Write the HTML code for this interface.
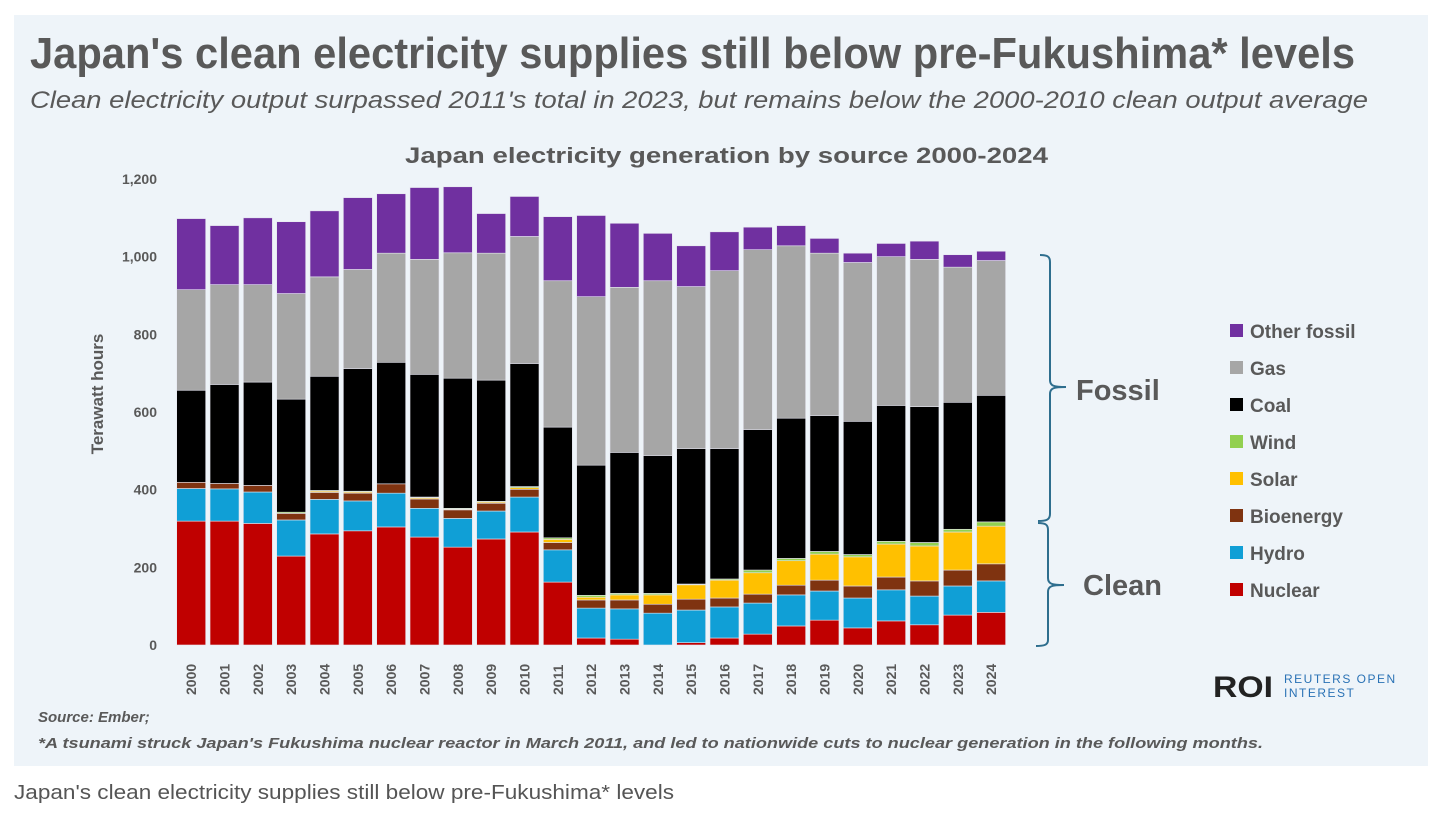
<!DOCTYPE html>
<html><head><meta charset="utf-8">
<style>
html,body{margin:0;padding:0;background:#fff;}
svg{display:block;font-family:"Liberation Sans",sans-serif;}
</style></head>
<body>
<svg id="chart" width="1448" height="824" viewBox="0 0 1448 824" xmlns="http://www.w3.org/2000/svg">
<rect x="14" y="15" width="1414" height="751" fill="#eef4f9"/>
<text x="30" y="68" font-size="44" font-weight="bold" fill="#595959" textLength="1325" lengthAdjust="spacingAndGlyphs">Japan's clean electricity supplies still below pre-Fukushima* levels</text>
<text x="30" y="108" font-size="24" font-style="italic" fill="#595959" textLength="1338" lengthAdjust="spacingAndGlyphs">Clean electricity output surpassed 2011's total in 2023, but remains below the 2000-2010 clean output average</text>
<text x="405" y="163" font-size="22" font-weight="bold" fill="#595959" textLength="643" lengthAdjust="spacingAndGlyphs">Japan electricity generation by source 2000-2024</text>
<text transform="translate(103,394) rotate(-90)" text-anchor="middle" font-size="17" font-weight="bold" fill="#595959">Terawatt hours</text>
<g id="yticks"></g>
<g id="bars"></g>
<g id="xlabels"></g>
<g id="braces" fill="none" stroke="#2e6e8e" stroke-width="2">
<path d="M1040,255 C1048,255 1050,257 1050,262 L1050,380 C1050,386 1054,387 1066,387 C1054,387 1050,388 1050,394 L1050,514 C1050,520 1046,521 1038,521"/>
<path d="M1038,523 C1046,523 1048,525 1048,530 L1048,578 C1048,584 1052,585 1064,585 C1052,585 1048,586 1048,592 L1048,640 C1048,645 1044,646 1036,646"/>
</g>
<text x="1076" y="400" font-size="29" font-weight="bold" fill="#595959">Fossil</text>
<text x="1083" y="595" font-size="29" font-weight="bold" fill="#595959">Clean</text>
<g id="legend"></g>
<text x="38" y="722" font-size="15" font-weight="bold" font-style="italic" fill="#595959">Source: Ember;</text>
<text x="38" y="748" font-size="15" font-weight="bold" font-style="italic" fill="#595959" textLength="1225" lengthAdjust="spacingAndGlyphs">*A tsunami struck Japan's Fukushima nuclear reactor in March 2011, and led to nationwide cuts to nuclear generation in the following months.</text>
<text x="1213" y="697" font-size="30" font-weight="bold" fill="#222" textLength="60" lengthAdjust="spacingAndGlyphs">ROI</text>
<text x="1284" y="683" font-size="12" fill="#2a72b5" letter-spacing="1.5">REUTERS OPEN</text>
<text x="1284" y="697" font-size="12" fill="#2a72b5" letter-spacing="1.5">INTEREST</text>
<text x="14" y="799" font-size="20" fill="#555" textLength="660" lengthAdjust="spacingAndGlyphs">Japan's clean electricity supplies still below pre-Fukushima* levels</text>
</svg>
<script>
const years = [2000,2001,2002,2003,2004,2005,2006,2007,2008,2009,2010,2011,2012,2013,2014,2015,2016,2017,2018,2019,2020,2021,2022,2023,2024];
const nuclear = [319,319,313,229,286,294,304,278,252,273,291,162,18,15,0,6,18,28,49,64,44,62,52,77,84];
const hydro = [84,83,81,93,89,77,87,74,74,72,90,83,77,78,82,84,80,80,80,75,77,80,74,75,81];
const bioenergy = [16,14,17,17,18,20,24,24,22,20,20,19,21,23,23,28,23,23,25,28,31,33,39,41,44];
const solar = [0,0,0,0,3,3,0,3,2,3,4,8,7,13,24,37,46,55,63,67,75,85,90,98,97];
const wind = [0,0,0,3,2,2,0,2,2,2,3,4,5,4,4,2,3,7,6,7,6,7,9,7,11];
const coal = [237,255,266,291,294,316,313,316,335,312,317,285,335,363,355,349,336,362,361,350,343,350,350,327,326];
const gas = [259,257,251,272,256,255,281,296,323,327,327,377,434,425,450,417,458,463,444,418,409,383,379,348,347];
const otherFossil = [183,152,172,185,170,185,153,185,170,102,103,165,209,165,122,105,100,58,52,38,24,34,47,32,24];
const yTicks = [0,200,400,600,800,1000,1200];
const yTickLabels = ["0","200","400","600","800","1,000","1,200"];
const seriesNames = ["Nuclear","Hydro","Bioenergy","Solar","Wind","Coal","Gas","Other fossil"];
const seriesColors = ["#c00000","#109fd6","#7f3310","#ffc000","#92d050","#000000","#a6a6a6","#7030a0"];
const seriesData = [nuclear,hydro,bioenergy,solar,wind,coal,gas,otherFossil];

const NS = "http://www.w3.org/2000/svg";
const y0 = 645, yMax = 1200, yTop = 179;
function yScale(v){ return y0 - (v / yMax) * (y0 - yTop); }
const step = 33.33, x0 = 176.7, bw = 29;
function xScale(i){ return x0 + i * step; }

const gy = document.getElementById('yticks');
yTicks.forEach((t,i)=>{
  const tx = document.createElementNS(NS,'text');
  tx.setAttribute('x',157); tx.setAttribute('y',yScale(t)+5);
  tx.setAttribute('text-anchor','end'); tx.setAttribute('font-size','14');
  tx.setAttribute('font-weight','bold'); tx.setAttribute('fill','#595959');
  
  
  tx.textContent = yTickLabels[i];
  gy.appendChild(tx);
});

const gb = document.getElementById('bars');
years.forEach((yr,i)=>{
  let cum = 0;
  seriesData.forEach((arr,s)=>{
    const v = arr[i];
    if (v <= 0) return;
    const r = document.createElementNS(NS,'rect');
    r.setAttribute('x', xScale(i));
    r.setAttribute('y', yScale(cum+v));
    r.setAttribute('width', bw);
    r.setAttribute('height', yScale(cum)-yScale(cum+v));
    r.setAttribute('fill', seriesColors[s]);
    r.setAttribute('stroke', '#e6e6f0');
    r.setAttribute('stroke-width', '0.6');
    
    
    gb.appendChild(r);
    cum += v;
  });
  const tx = document.createElementNS(NS,'text');
  const cx = xScale(i) + bw/2 + 5;
  tx.setAttribute('transform','translate('+cx+',695) rotate(-90)');
  tx.setAttribute('font-size','14'); tx.setAttribute('font-weight','bold'); tx.setAttribute('fill','#595959');
  
  
  tx.textContent = yr;
  document.getElementById('xlabels').appendChild(tx);
});

const gl = document.getElementById('legend');
for (let k = 0; k < seriesNames.length; k++){
  const s = seriesNames.length - 1 - k;
  const ly = 331 + k*37;
  const r = document.createElementNS(NS,'rect');
  r.setAttribute('x',1230); r.setAttribute('y',ly-7); r.setAttribute('width',13); r.setAttribute('height',13);
  r.setAttribute('fill',seriesColors[s]);
  
  
  gl.appendChild(r);
  const t = document.createElementNS(NS,'text');
  t.setAttribute('x',1250); t.setAttribute('y',ly+7);
  t.setAttribute('font-size','19'); t.setAttribute('font-weight','bold'); t.setAttribute('fill','#595959');
  
  
  t.textContent = seriesNames[s];
  gl.appendChild(t);
}
</script>
</body></html>
